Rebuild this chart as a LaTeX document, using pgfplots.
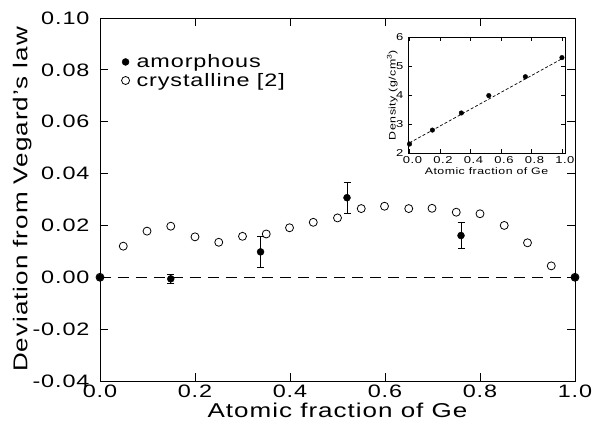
\documentclass[border=0pt]{standalone}
\usepackage{fontspec}
\setmainfont{Liberation Sans}[FakeStretch=1.3,LetterSpace=5]
\usepackage{pgfplots}
\pgfplotsset{compat=1.18}

\begin{document}
\begin{tikzpicture}
\begin{axis}[
    scale only axis,
    width=475pt, height=363pt,
    xmin=0, xmax=1, ymin=-0.04, ymax=0.10,
    xtick={0,0.2,0.4,0.6,0.8,1.0},
    ytick={-0.04,-0.02,0,0.02,0.04,0.06,0.08,0.10},
    /pgf/number format/assume math mode=true,
    xticklabel style={/pgf/number format/.cd, fixed, fixed zerofill, precision=1},
    yticklabel style={/pgf/number format/.cd, fixed, fixed zerofill, precision=2,
        /tikz/.cd, xshift=-7pt},
    ticklabel style={font=\fontsize{18}{20}\selectfont},
    tick align=inside,
    major tick length=8pt,
    tick style={line width=0.8pt, black},
    axis line style={line width=0.9pt},
    xlabel={Atomic fraction of Ge},
    ylabel={Deviation from Vegard's law},
    label style={font=\fontsize{20}{22}\selectfont},
    xlabel style={at={(axis description cs:0.5,-0.08)}, anchor=center},
    ylabel style={at={(axis description cs:-0.164,0.5)}, anchor=center},
    legend style={draw=none, fill=none, at={(axis description cs:0.045,0.905)},
        anchor=north west, font=\fontsize{18}{20}\selectfont, inner sep=0pt,
        row sep=0pt},
    legend cell align=left,
    reverse legend,
]
\addplot[forget plot, black, line width=0.8pt, dash pattern=on 11pt off 7pt]
    coordinates {(0,0) (1,0)};
\addplot[only marks, mark=o, mark size=4pt, black, mark options={line width=0.8pt}]
    coordinates {
    (0,0) (0.049,0.0120) (0.099,0.0178) (0.149,0.0197) (0.200,0.0156)
    (0.250,0.0135) (0.300,0.0158) (0.350,0.0167) (0.399,0.0191) (0.449,0.0212)
    (0.500,0.0229) (0.550,0.0265) (0.599,0.0274) (0.650,0.0265) (0.699,0.0266)
    (0.750,0.0251) (0.800,0.0245) (0.851,0.0200) (0.900,0.0133) (0.950,0.0044)
    (1.0,0)};
\addlegendentry{\hspace{5pt}crystalline [2]}
\addplot[only marks, mark=*, mark size=3.5pt, black,
    error bars/.cd, y dir=both, y explicit,
    error mark=|,
    error bar style={line width=0.8pt},
    error mark options={mark size=3.5pt, line width=0.8pt}]
    coordinates {
    (0,0) +- (0,0)
    (0.149,-0.0006) +- (0,0.0019)
    (0.338,0.0098) +- (0,0.0061)
    (0.520,0.0307) +- (0,0.0060)
    (0.760,0.0161) +- (0,0.0051)
    (1.0,0) +- (0,0)};
\addlegendentry{\hspace{5pt}amorphous}
\end{axis}

\begin{axis}[
    at={(308pt,228pt)}, anchor=south west,
    scale only axis,
    width=157pt, height=116pt,
    xmin=-0.01, xmax=1.02, ymin=2, ymax=6,
    xtick={0,0.2,0.4,0.6,0.8,1.0},
    ytick={2,3,4,5,6},
    /pgf/number format/assume math mode=true,
    xticklabel style={/pgf/number format/.cd, fixed, fixed zerofill, precision=1,
        /tikz/.cd, xshift=3pt},
    yticklabel style={xshift=-1pt},
    ticklabel style={font=\fontsize{10}{11}\selectfont},
    tick align=inside,
    major tick length=4pt,
    tick style={line width=0.7pt, black},
    axis line style={line width=0.8pt},
    axis background/.style={fill=white},
    xlabel={Atomic fraction of Ge},
    ylabel={Density (g/cm\textsuperscript{3})},
    label style={font=\fontsize{9.5}{11}\selectfont},
    xlabel style={at={(axis description cs:0.5,-0.16)}, anchor=center},
    ylabel style={at={(axis description cs:-0.1,0.5)}, anchor=center},
]
\addplot[black, line width=0.7pt, dash pattern=on 3pt off 2pt]
    coordinates {(0,2.35) (1.0,5.25)};
\addplot[only marks, mark=*, mark size=2.3pt, black]
    coordinates {(0,2.31) (0.15,2.79) (0.34,3.38) (0.52,3.98) (0.76,4.63) (1.0,5.29)};
\end{axis}
\pgfresetboundingbox
\path[use as bounding box] (-100pt,-50pt) rectangle (492pt,381pt);
\end{tikzpicture}
\end{document}
